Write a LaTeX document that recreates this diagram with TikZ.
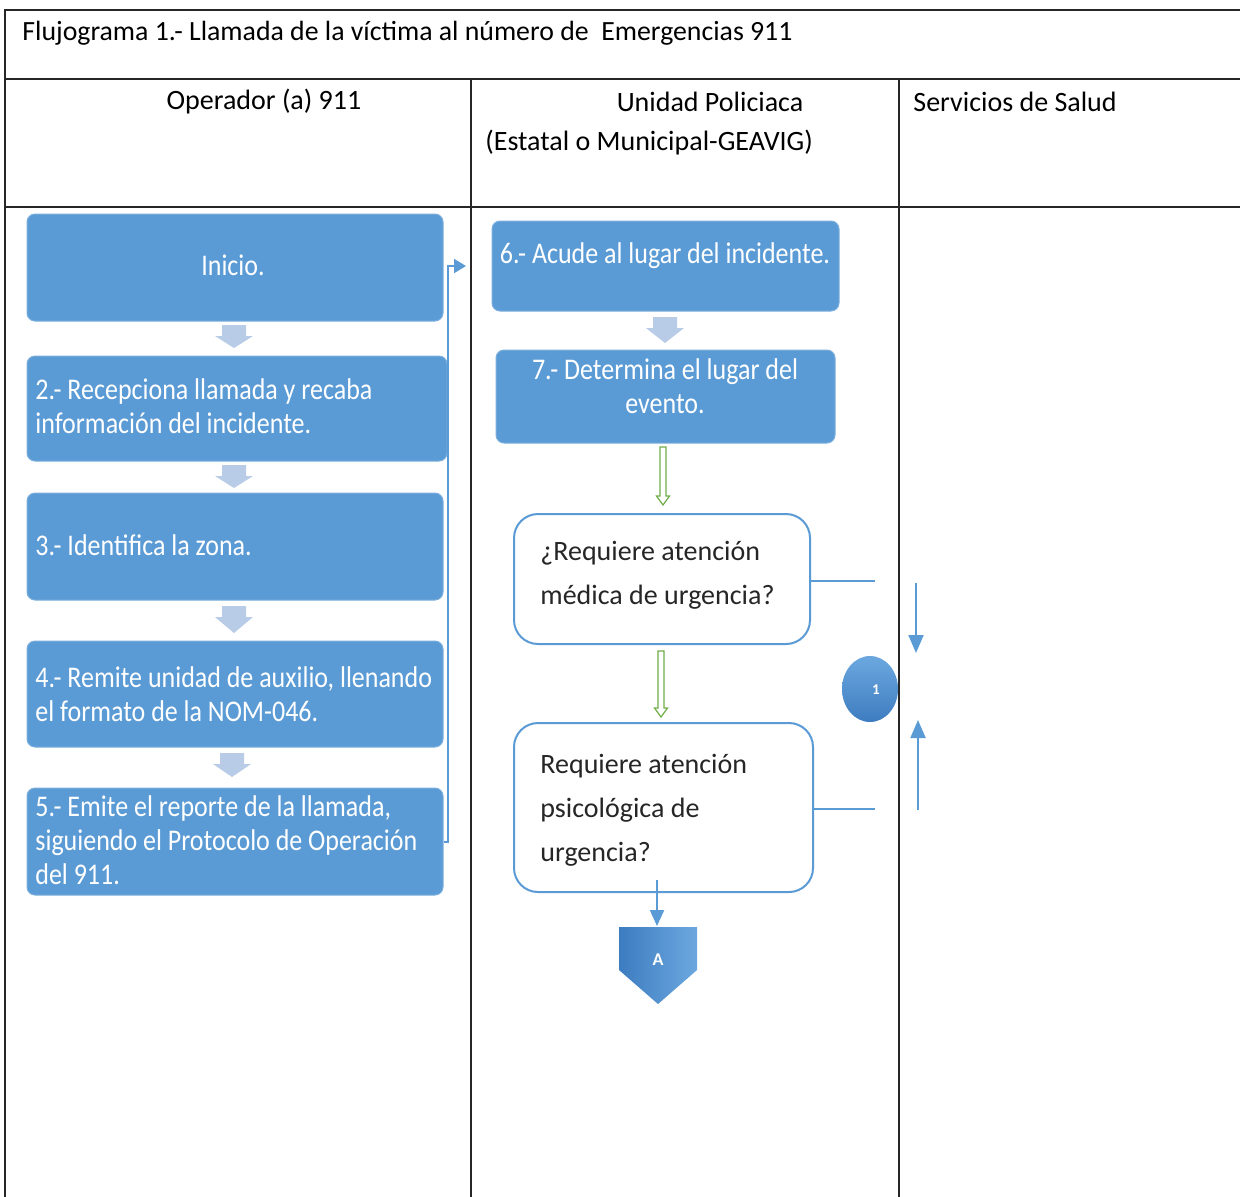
\documentclass[tikz,border=0pt]{standalone}
\usepackage{fontspec}
\setmainfont{Carlito}
\newfontfamily\condfont[FakeStretch=0.866]{Carlito}
\usetikzlibrary{arrows.meta,fit,calc}
\definecolor{boxblue}{HTML}{5B9BD5}
\definecolor{lightarr}{HTML}{B8CCE8}
\definecolor{flowgreen}{HTML}{70AD47}
\definecolor{darkblue}{HTML}{3D7CC0}
\definecolor{lightblue2}{HTML}{6CA8DF}
\definecolor{txtgray}{HTML}{262626}
\tikzset{
  tbl/.style={line width=1pt, black!85},
  titletext/.style={font=\fontsize{13.9}{16}\selectfont, text=black, inner sep=0pt},
  hdr/.style={font=\fontsize{14}{17}\selectfont, text=black, inner sep=0pt},
  box/.style={rectangle, rounded corners=4pt, fill=boxblue, draw=boxblue!80!white, line width=0.5pt, inner sep=0pt},
  btext/.style={font=\condfont\fontsize{15}{17}\selectfont, text=white, inner sep=0pt},
  dbox/.style={rectangle, rounded corners=12pt, draw=boxblue, line width=1pt, fill=white, inner sep=0pt},
  dtext/.style={font=\fontsize{14}{22}\selectfont, text=txtgray, inner sep=0pt, align=left},
  bline/.style={draw=boxblue, line width=1pt},
  blk/.pic={\fill[lightarr] (-12,0) -- (12,0) -- (12,11) -- (19,11) -- (0,#1) -- (-19,11) -- (-12,11) -- cycle;},
  garrow/.pic={\draw[flowgreen, line width=0.6pt, fill=white] (-3,0) -- (3,0) -- (3,#1-9) -- (6.5,#1-9) -- (0,#1) -- (-6.5,#1-9) -- (-3,#1-9) -- cycle;}
}
\begin{document}
\begin{tikzpicture}[x=0.5pt,y=-0.5pt]
\useasboundingbox (0,0) rectangle (1240,1196);
\clip (0,0) rectangle (1240,1196);
\fill[white] (0,0) rectangle (1240,1196);
% table
\draw[tbl] (5,1200) -- (5,10) -- (1245,10);
\draw[tbl] (5,79) -- (1245,79);
\draw[tbl] (5,207) -- (1245,207);
\draw[tbl] (471,79) -- (471,1200);
\draw[tbl] (899,79) -- (899,1200);
% header texts
\node[titletext, anchor=west] (title) at (22,33) {Flujograma 1.- Llamada de la víctima al número de\ \ Emergencias 911};
\node[hdr] (h1) at (264,102) {Operador (a) 911};
\node[hdr] (h2a) at (710,102) {Unidad Policiaca};
\node[hdr, anchor=west] (h2b) at (485,143) {(Estatal o Municipal-GEAVIG)};
\node[hdr, anchor=west] (h3) at (913,102) {Servicios de Salud};
% left column boxes
\node[box, fit={(27,214) (443,321)}] (b1) {};
\node[btext] (t1) at (233,265) {Inicio.};
\node[box, fit={(27,356) (447,461)}] (b2) {};
\node[btext, anchor=west, align=left] (t2) at (35,406) {2.- Recepciona llamada y recaba\\información del incidente.};
\node[box, fit={(27,493) (443,600)}] (b3) {};
\node[btext, anchor=west] (t3) at (35,545) {3.- Identifica la zona.};
\node[box, fit={(27,641) (443,747)}] (b4) {};
\node[btext, anchor=west, align=left] (t4) at (35,694) {4.- Remite unidad de auxilio, llenando\\el formato de la NOM-046.};
\node[box, fit={(27,788) (443,895)}] (b5) {};
\node[btext, anchor=west, align=left] (t5) at (35,840) {5.- Emite el reporte de la llamada,\\siguiendo el Protocolo de Operación\\del 911.};
\pic at (234,325) {blk=23};
\pic at (234,465) {blk=23};
\pic at (234,606) {blk=27};
\pic at (232,753) {blk=24};
% middle column
\node[box, fit={(492,221) (839,311)}] (b6) {};
\node[btext] (t6) at (665,256) {6.- Acude al lugar del incidente.};
\node[box, fit={(496,350) (835,443)}] (b7) {};
\node[btext, align=center] (t7) at (665,386) {7.- Determina el lugar del\\evento.};
\pic at (665,317) {blk=26};
\pic at (663,447) {garrow=58};
\node[dbox, fit={(514,514) (810,644)}] (d1) {};
\node[dtext, anchor=west] (td1) at (540,575) {¿Requiere atención\\médica de urgencia?};
\pic at (661,651) {garrow=66};
\node[dbox, fit={(514,723) (813,892)}] (d2) {};
\node[dtext, anchor=west] (td2) at (540,810) {Requiere atención\\psicológica de\\urgencia?};
% off-page connector A
\shade[left color=darkblue, right color=lightblue2] (619,927) -- (697,927) -- (697,970) -- (658,1004) -- (619,970) -- cycle;
\node[font=\bfseries\fontsize{9}{10}\selectfont, text=white] (conA) at (658,960) {A};
\coordinate (conAtop) at (657,926);
\coordinate (d2low) at (657,880);
\draw[bline, -{Triangle[length=8pt,width=7pt]}] (d2low) -- (conAtop);
% connector 1
\shade[top color=lightblue2, bottom color=darkblue] (870,689) ellipse [x radius=28, y radius=33];
\node[font=\bfseries\fontsize{7.5}{8}\selectfont, text=white] (n1) at (876,690) {1};
% connectors
\coordinate (c1) at (466,266);
\draw[bline, -{Triangle[length=6pt,width=7pt]}] (b5.east) -- ++(4,0) |- (c1);
\coordinate (s1) at (875,581);
\coordinate (s2) at (875,809);
\draw[bline] (d1.east |- s1) -- (s1);
\draw[bline] (d2.east |- s2) -- (s2);
\coordinate (da1) at (916,583);
\coordinate (da2) at (916,653);
\coordinate (ua1) at (918,810);
\coordinate (ua2) at (918,720);
\draw[bline, -{Triangle[length=9pt,width=7.5pt]}] (da1) -- (da2);
\draw[bline, -{Triangle[length=9pt,width=7.5pt]}] (ua1) -- (ua2);
\end{tikzpicture}
\end{document}
